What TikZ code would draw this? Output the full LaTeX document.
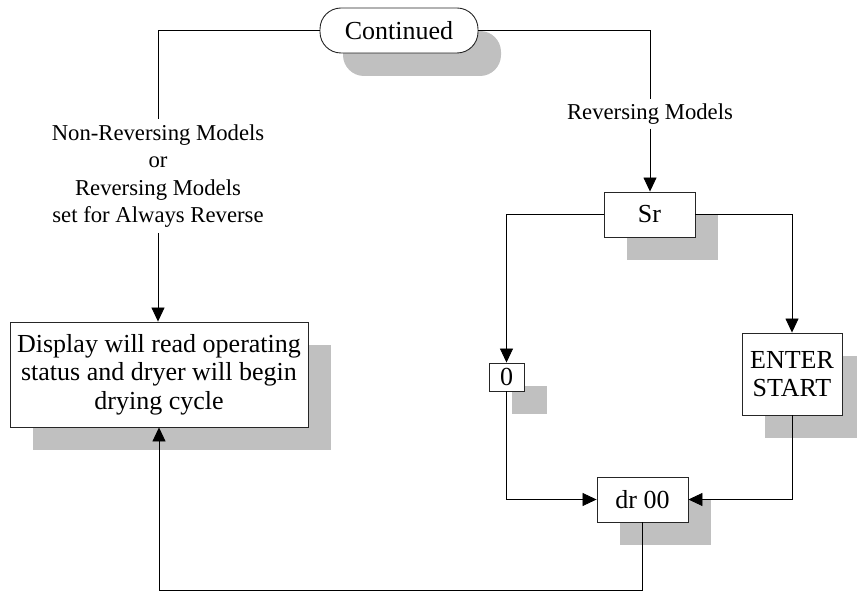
\documentclass[tikz,border=0pt]{standalone}
\usepackage{fontspec}
\setmainfont{Liberation Serif}
\usetikzlibrary{arrows.meta,shadows}
\definecolor{shgray}{RGB}{192,192,192}

\tikzset{
  box/.style={draw=black!85,line width=0.9pt,fill=white,inner sep=0pt,align=center,
    font=\fontsize{26}{28.5}\selectfont,
    drop shadow={shadow xshift=23pt,shadow yshift=-23pt,fill=shgray,opacity=1}},
  lbl/.style={inner sep=5pt,align=center,font=\fontsize{22.7}{27.5}\selectfont},
  arr/.style={-{Triangle[length=14pt,width=13pt]}},
}

\begin{document}
\begin{tikzpicture}[x=1pt,y=-1pt,line width=0.8pt]

    \useasboundingbox (0,0) rectangle (857,593);

    \node[box,rounded corners=21pt,minimum width=158pt,minimum height=45pt] (Cont) at (399,30.5) {Continued};

    \node[lbl] (NoRe) at (158,176) {Non-Reversing Models\\or\\Reversing Models\\set for Always Reverse};
    \node[lbl,inner sep=4pt] (ReMo) at (650,114) {Reversing Models};

    \node[box,minimum width=298pt,minimum height=105pt] (Disp) at (159,374.5) {Display will read operating\\status and dryer will begin\\drying cycle};

    \node[box,minimum width=91pt,minimum height=45pt] (Sr) at (649.5,214.5) {Sr};
    \node[box,minimum width=35pt,minimum height=28pt] (Zero) at (506.5,377) {0};
    \node[box,minimum width=100pt,minimum height=82pt] (Ent) at (792,374) {ENTER\\START};
    \node[box,minimum width=91pt,minimum height=45pt] (Dr) at (642.5,499.5) {dr 00};

    \coordinate (Bot) at (0,590);

    \draw[draw=black] (Cont.west) -| (NoRe.north);
    \draw[arr,draw=black] (NoRe.south) -- (NoRe.south |- Disp.north);

    \draw[draw=black] (Cont.east) -| (ReMo.north);
    \draw[arr,draw=black] (ReMo.south) -- (ReMo.south |- Sr.north);

    \draw[arr,draw=black] (Sr.west) -| (Zero.north);
    \draw[arr,draw=black] (Sr.east) -| (Ent.north);

    \draw[arr,draw=black] (Zero.south) |- (Dr.west);
    \draw[arr,draw=black] (Ent.south) |- (Dr.east);

    \draw[arr,draw=black] (Dr.south) -- (Dr.south |- Bot) -| (Disp.south);

\end{tikzpicture}
\end{document}
